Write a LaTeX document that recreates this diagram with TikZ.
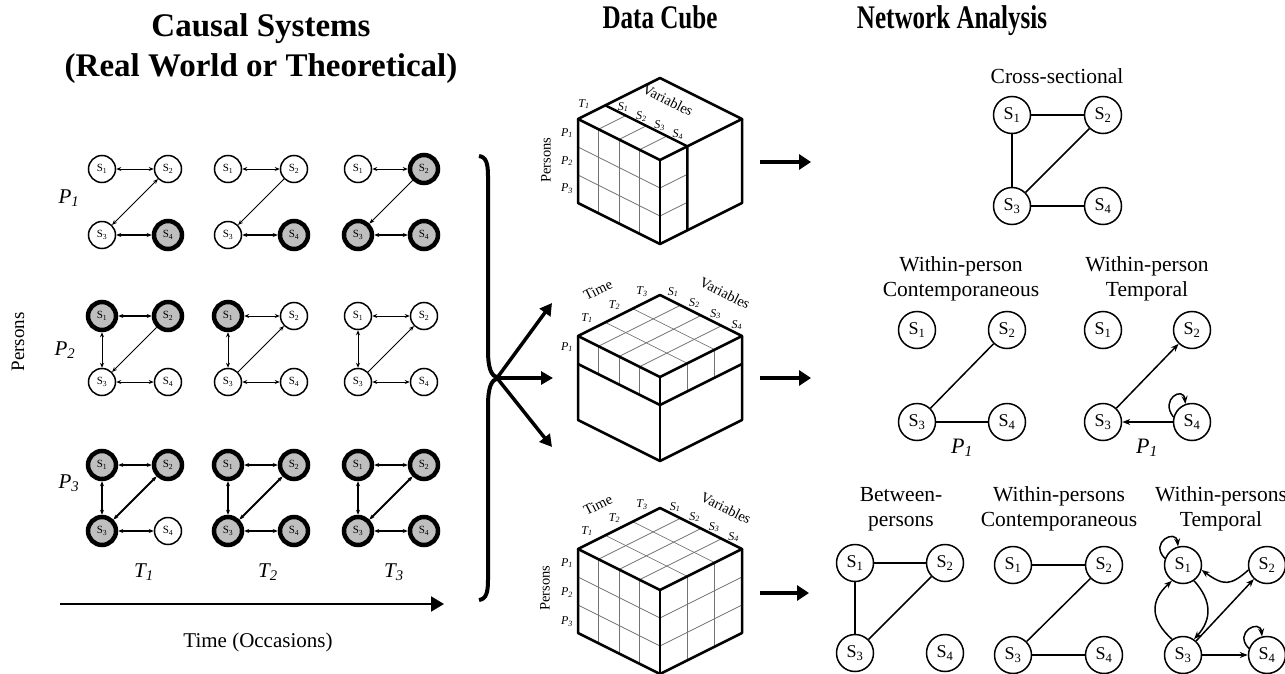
\documentclass[tikz,border=0pt]{standalone}
\usepackage{fontspec}
\usepackage{graphicx}
\setmainfont{Liberation Serif}
\usetikzlibrary{arrows.meta}

\tikzset{
  head/.style={font=\fontsize{33}{36}\selectfont\bfseries, inner sep=0pt},
  title/.style={font=\fontsize{21.5}{25}\selectfont, align=center, inner sep=0pt},
  pl/.style={circle, draw, fill=white, line width=1.5pt, minimum size=27pt, inner sep=0pt, font=\fontsize{11}{11}\selectfont},
  sh/.style={pl, fill=black!25, line width=4.5pt, minimum size=28pt},
  wk/.style={line width=0.9pt},
  bd/.style={line width=1.9pt},
  nn/.style={draw=none},
  twoway/.style={{Stealth[length=5pt,width=4pt]}-{Stealth[length=5pt,width=4pt]}},
  tothree/.style={-{Stealth[length=5pt,width=4pt]}},
  totwo/.style={{Stealth[length=5pt,width=4pt]}-},
  var/.style={circle, draw, fill=white, line width=1.5pt, minimum size=37pt, inner sep=0pt, font=\fontsize{18}{18}\selectfont},
  link/.style={line width=1.5pt},
  dirlink/.style={line width=1.5pt, -{Stealth[length=8pt,width=6pt]}},
  cubeedge/.style={line width=2.5pt, line join=round},
  gridline/.style={line width=0.7pt, black!55},
  cubelab/.style={font=\fontsize{12}{12}\selectfont\itshape, inner sep=0pt},
  axlab/.style={font=\fontsize{14.5}{14.5}\selectfont, inner sep=0pt},
  bigarrow/.style={line width=4pt, -{Triangle[length=12pt,width=15pt]}}
}

\begin{document}
\begin{tikzpicture}[x=1pt,y=-1pt]
\useasboundingbox (0,0) rectangle (1285,674);

% Headings
\node[head, anchor=base] (hcausal) at (261,37) {Causal Systems};
\node[head, anchor=base] (hreal) at (261,77) {(Real World or Theoretical)};
\node[head, anchor=base] (hcube) at (660,29) {\scalebox{0.76}[1]{Data Cube}};
\node[head, anchor=base] (hnet) at (952,29) {\scalebox{0.76}[1]{Network Analysis}};

% Causal systems: persons x occasions
\foreach \row/\col/\x/\y/\na/\nb/\nc/\nd/\la/\lb/\lc/\ld/\dg in {
  1/1/102/169/pl/pl/pl/sh/wk/nn/wk/bd/twoway,
  1/2/228/169/pl/pl/pl/sh/wk/nn/wk/bd/tothree,
  1/3/358/169/pl/sh/sh/sh/wk/nn/wk/bd/tothree,
  2/1/102/316/sh/sh/pl/pl/bd/wk/wk/wk/tothree,
  2/2/228/316/sh/pl/pl/pl/wk/wk/wk/wk/totwo,
  2/3/358/316/pl/pl/pl/pl/wk/wk/wk/wk/totwo,
  3/1/102/465/sh/sh/sh/pl/bd/bd/bd/bd/twoway,
  3/2/228/465/sh/sh/sh/sh/bd/bd/bd/bd/twoway,
  3/3/358/465/sh/sh/sh/sh/bd/bd/bd/bd/twoway}
{
  \node[\na] (p\row t\col s1) at (\x,\y) {S\textsubscript{1}};
  \node[\nb] (p\row t\col s2) at (\x+66,\y) {S\textsubscript{2}};
  \node[\nc] (p\row t\col s3) at (\x,\y+66) {S\textsubscript{3}};
  \node[\nd] (p\row t\col s4) at (\x+66,\y+66) {S\textsubscript{4}};
  \draw[twoway,\la] (p\row t\col s1) -- (p\row t\col s2);
  \draw[twoway,\lb] (p\row t\col s1) -- (p\row t\col s3);
  \draw[\dg,\lc] (p\row t\col s2) -- (p\row t\col s3);
  \draw[twoway,\ld] (p\row t\col s3) -- (p\row t\col s4);
}

\node[font=\fontsize{21}{21}\selectfont\itshape, anchor=base] (pone) at (69,203) {P\textsubscript{1}};
\node[font=\fontsize{21}{21}\selectfont\itshape, anchor=base] (ptwo) at (65,355) {P\textsubscript{2}};
\node[font=\fontsize{21}{21}\selectfont\itshape, anchor=base] (pthree) at (69,488) {P\textsubscript{3}};
\node[font=\fontsize{21}{21}\selectfont\itshape, anchor=base] (tone) at (144,577) {T\textsubscript{1}};
\node[font=\fontsize{21}{21}\selectfont\itshape, anchor=base] (ttwo) at (268,577) {T\textsubscript{2}};
\node[font=\fontsize{21}{21}\selectfont\itshape, anchor=base] (tthree) at (394,577) {T\textsubscript{3}};
\node[font=\fontsize{19}{19}\selectfont, rotate=90] (persons) at (18,342) {Persons};

% Time axis
\coordinate (tstart) at (60,604);
\coordinate (tend) at (444,604);
\draw[line width=2pt, -{Triangle[length=13pt,width=15pt]}] (tstart) -- (tend);
\node[font=\fontsize{21}{21}\selectfont, anchor=base] (timelab) at (258,647) {Time (Occasions)};

% Brace and split
\draw[line width=4pt] (479,156) .. controls (486,157) and (488,163) .. (488,176) -- (488,350)
  .. controls (488,368) and (491,376) .. (498,378)
  .. controls (491,380) and (488,388) .. (488,406) -- (488,580)
  .. controls (488,593) and (486,599) .. (479,600);
\coordinate (tip) at (497,378);
\coordinate (toA) at (552,303);
\coordinate (toB) at (553,378);
\coordinate (toC) at (552,447);
\draw[line width=3.5pt, -{Triangle[length=12pt,width=13pt]}] (tip) -- (toA);
\draw[line width=3.5pt, -{Triangle[length=12pt,width=13pt]}] (tip) -- (toB);
\draw[line width=3.5pt, -{Triangle[length=12pt,width=13pt]}] (tip) -- (toC);

% Data cube: one occasion
\begin{scope}[shift={(660,160)}]
  \foreach \j in {1,2,3} {
    \draw[gridline] ({-82+20.5*\j},{-41+10.25*\j}) -- ++(0,84);
    \draw[gridline] ({-82+20.5*\j},{-41+10.25*\j}) -- ++(27.33,-13.67);
  }
  \foreach \i in {1,2}
    \draw[gridline] (-82,{-41+28*\i}) -- (0,{28*\i}) -- ++(27.33,-13.67);
  \draw[cubeedge] (-82,-41) -- (0,-82) -- (82,-41) -- (0,0) -- cycle;
  \draw[cubeedge] (-82,-41) -- (-82,43) -- (0,84) -- (82,43) -- (82,-41);
  \draw[cubeedge] (0,0) -- (0,84);
  \draw[cubeedge] (-54.67,-54.67) -- (27.33,-13.67) -- (27.33,70.33);
  \node[cubelab] (ta) at (-76,-56) {T\textsubscript{1}};
  \foreach \j in {1,...,4}
    \node[cubelab] (sa\j) at ({-37+18.3*(\j-1)},{-53+9.3*(\j-1)}) {S\textsubscript{\j}};
  \node[axlab, rotate=-26.6] (vara) at (8,-60) {Variables};
  \node[axlab, rotate=90] (pera) at (-114,0) {Persons};
  \foreach \i in {1,2,3}
    \node[cubelab] (pa\i) at (-93,{-27+28*(\i-1)}) {P\textsubscript{\i}};
\end{scope}

% Data cube: one person
\begin{scope}[shift={(660,377)}]
  \foreach \k in {1,2} {
    \draw[gridline] ({-82+27.33*\k},{-41-13.67*\k}) -- ++(82,41);
    \draw[gridline] ({27.33*\k},{-13.67*\k}) -- ++(0,28);
  }
  \foreach \j in {1,2,3} {
    \draw[gridline] ({-82+20.5*\j},{-41+10.25*\j}) -- ++(82,-41);
    \draw[gridline] ({-82+20.5*\j},{-41+10.25*\j}) -- ++(0,28);
  }
  \draw[cubeedge] (-82,-41) -- (0,-82) -- (82,-41) -- (0,0) -- cycle;
  \draw[cubeedge] (-82,-41) -- (-82,43) -- (0,84) -- (82,43) -- (82,-41);
  \draw[cubeedge] (0,0) -- (0,84);
  \draw[cubeedge] (-82,-13) -- (0,28) -- (82,-13);
  \node[axlab, rotate=26.6] (timeb) at (-62,-87) {Time};
  \foreach \k in {1,2,3}
    \node[cubelab] (tb\k) at ({-73+27.5*(\k-1)},{-59-13*(\k-1)}) {T\textsubscript{\k}};
  \foreach \j in {1,...,4}
    \node[cubelab] (sb\j) at ({13+21.3*(\j-1)},{-85+11*(\j-1)}) {S\textsubscript{\j}};
  \node[axlab, rotate=-26.6] (varb) at (65,-84) {Variables};
  \node[cubelab] (pb1) at (-93,-30) {P\textsubscript{1}};
\end{scope}

% Data cube: full
\begin{scope}[shift={(660,590)}]
  \foreach \k in {1,2} {
    \draw[gridline] ({-82+27.33*\k},{-41-13.67*\k}) -- ++(82,41);
    \draw[gridline] ({27.33*\k},{-13.67*\k}) -- ++(0,84);
  }
  \foreach \j in {1,2,3} {
    \draw[gridline] ({-82+20.5*\j},{-41+10.25*\j}) -- ++(82,-41);
    \draw[gridline] ({-82+20.5*\j},{-41+10.25*\j}) -- ++(0,84);
  }
  \foreach \i in {1,2}
    \draw[gridline] (-82,{-41+28*\i}) -- (0,{28*\i}) -- (82,{-41+28*\i});
  \draw[cubeedge] (-82,-41) -- (0,-82) -- (82,-41) -- (0,0) -- cycle;
  \draw[cubeedge] (-82,-41) -- (-82,43) -- (0,84) -- (82,43) -- (82,-41);
  \draw[cubeedge] (0,0) -- (0,84);
  \node[axlab, rotate=26.6] (timec) at (-62,-85) {Time};
  \foreach \k in {1,2,3}
    \node[cubelab] (tc\k) at ({-73+27.5*(\k-1)},{-59-13*(\k-1)}) {T\textsubscript{\k}};
  \foreach \j in {1,...,4}
    \node[cubelab] (sc\j) at ({15+19.5*(\j-1)},{-83+10*(\j-1)}) {S\textsubscript{\j}};
  \node[axlab, rotate=-26.6] (varc) at (66,-82) {Variables};
  \node[axlab, rotate=90] (perc) at (-115,-2) {Persons};
  \foreach \i in {1,2,3}
    \node[cubelab] (pc\i) at (-93,{-27+29.5*(\i-1)}) {P\textsubscript{\i}};
\end{scope}

% Cube to network arrows
\coordinate (outA) at (760,162);
\coordinate (inA) at (811,162);
\coordinate (outB) at (760,378);
\coordinate (inB) at (811,378);
\coordinate (outC) at (760,593);
\coordinate (inC) at (809,593);
\draw[bigarrow] (outA) -- (inA);
\draw[bigarrow] (outB) -- (inB);
\draw[bigarrow] (outC) -- (inC);

% Cross-sectional
\node[title, anchor=base] (tcross) at (1057,84) {Cross-sectional};
\node[var] (a1) at (1012,115) {S\textsubscript{1}};
\node[var] (a2) at (1103,115) {S\textsubscript{2}};
\node[var] (a3) at (1012,206) {S\textsubscript{3}};
\node[var] (a4) at (1103,206) {S\textsubscript{4}};
\draw[link] (a1) -- (a2);
\draw[link] (a1) -- (a3);
\draw[link] (a2) -- (a3);
\draw[link] (a3) -- (a4);

% Within-person
\node[title] (tbcont) at (961,279) {Within-person\\Contemporaneous};
\node[var] (b1) at (917,330) {S\textsubscript{1}};
\node[var] (b2) at (1007,330) {S\textsubscript{2}};
\node[var] (b3) at (917,422) {S\textsubscript{3}};
\node[var] (b4) at (1007,422) {S\textsubscript{4}};
\draw[link] (b2) -- (b3);
\draw[link] (b3) -- (b4);
\node[font=\fontsize{22}{22}\selectfont\itshape] (bp) at (962,448) {P\textsubscript{1}};

\node[title] (tctemp) at (1147,279) {Within-person\\Temporal};
\node[var] (c1) at (1103,330) {S\textsubscript{1}};
\node[var] (c2) at (1192,330) {S\textsubscript{2}};
\node[var] (c3) at (1103,422) {S\textsubscript{3}};
\node[var] (c4) at (1192,422) {S\textsubscript{4}};
\draw[dirlink] (c3) -- (c2);
\draw[dirlink] (c4) -- (c3);
\draw[dirlink] (c4.165) .. controls +(-14,-18) and +(-2,-18) .. (c4.110);
\node[font=\fontsize{22}{22}\selectfont\itshape] (cp) at (1147,448) {P\textsubscript{1}};

% Between and within persons
\node[title] (tdbet) at (901,509) {Between-\\persons};
\node[var] (d1) at (855,563) {S\textsubscript{1}};
\node[var] (d2) at (945,563) {S\textsubscript{2}};
\node[var] (d3) at (855,653) {S\textsubscript{3}};
\node[var] (d4) at (945,653) {S\textsubscript{4}};
\draw[link] (d1) -- (d2);
\draw[link] (d1) -- (d3);
\draw[link] (d2) -- (d3);

\node[title] (tecont) at (1059,509) {Within-persons\\Contemporaneous};
\node[var] (e1) at (1013,565) {S\textsubscript{1}};
\node[var] (e2) at (1104,565) {S\textsubscript{2}};
\node[var] (e3) at (1013,655) {S\textsubscript{3}};
\node[var] (e4) at (1104,655) {S\textsubscript{4}};
\draw[link] (e1) -- (e2);
\draw[link] (e2) -- (e3);
\draw[link] (e3) -- (e4);

\node[title] (tftemp) at (1221,509) {Within-persons\\Temporal};
\node[var] (f1) at (1183,565) {S\textsubscript{1}};
\node[var] (f2) at (1267,565) {S\textsubscript{2}};
\node[var] (f3) at (1183,655) {S\textsubscript{3}};
\node[var] (f4) at (1267,655) {S\textsubscript{4}};
\draw[dirlink] (f1.160) .. controls +(-16,-16) and +(-2,-18) .. (f1.105);
\draw[dirlink] (f2.195) .. controls +(-18,16) and +(22,16) .. (f1.-15);
\draw[dirlink] (f1.-55) .. controls +(18,20) and +(18,-20) .. (f3.55);
\draw[dirlink] (f3.125) .. controls +(-22,-20) and +(-22,20) .. (f1.-125);
\draw[dirlink] (f3) -- (f2);
\draw[dirlink] (f3) -- (f4);
\draw[dirlink] (f4.160) .. controls +(-16,-16) and +(-2,-18) .. (f4.105);
\end{tikzpicture}
\end{document}
